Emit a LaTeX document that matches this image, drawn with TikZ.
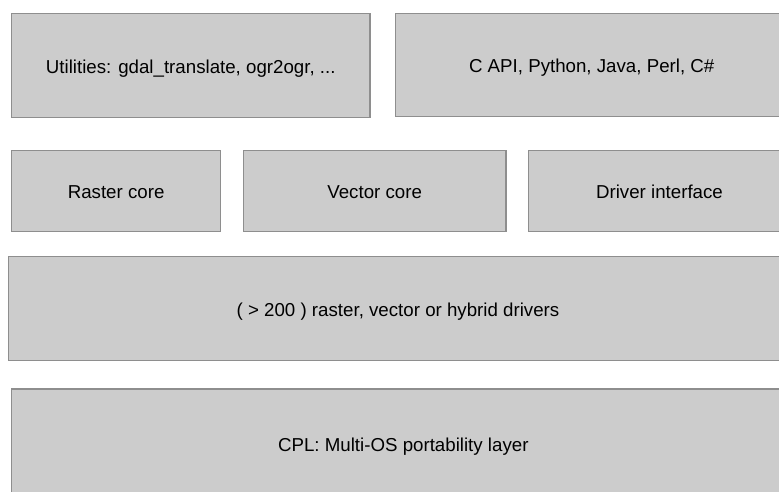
\documentclass[tikz,border=0pt]{standalone}
\usepackage{fontspec}
\setmainfont{Liberation Sans}
\definecolor{boxfill}{HTML}{CCCCCC}
\definecolor{boxline}{HTML}{8E8E8E}
\begin{document}
\begin{tikzpicture}[x=1pt,y=-1pt,
  layer/.style={draw=boxline, fill=boxfill, line width=1.2pt, rectangle,
    inner sep=0pt, font=\fontsize{18.7}{21}\selectfont,
    text height=15.6pt, text depth=0pt}]
\useasboundingbox (0,0) rectangle (779,491);
\clip (0,0) rectangle (779,491);
% top row: tools and bindings
\node[layer, minimum width=358.5pt, minimum height=104pt] (util) at (190.75,65.5)
  {Utilities: gdal\_translate, ogr2ogr, ...};
\node[layer, minimum width=392.8pt, minimum height=103.5pt] (capi) at (591.7,65.05)
  {C API, Python, Java, Perl, C\#};
% core row
\node[layer, minimum width=209.2pt, minimum height=80.8pt] (raster) at (116.1,190.9)
  {Raster core};
\node[layer, minimum width=262.7pt, minimum height=80.8pt] (vector) at (374.65,190.9)
  {Vector core};
\node[layer, minimum width=262pt, minimum height=80.8pt] (driver) at (659.5,190.9)
  {Driver interface};
% drivers layer
\node[layer, minimum width=779pt, minimum height=104pt] (drivers) at (398,308.7)
  {( > 200 ) raster, vector or hybrid drivers};
% portability layer
\node[layer, minimum width=784pt, minimum height=108.4pt] (cpl) at (403.3,443.2)
  {CPL: Multi-OS portability layer};
\end{tikzpicture}
\end{document}
